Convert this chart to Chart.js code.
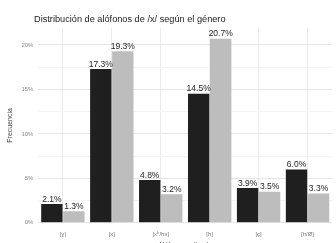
<!DOCTYPE html>
<html>
<head>
<meta charset="utf-8">
<script src="https://cdn.jsdelivr.net/npm/chart.js@4"></script>
<style>
  html, body { margin: 0; padding: 0; background: #ffffff; }
  #wrap { width: 336px; height: 243px; position: relative; }
</style>
</head>
<body>
<div id="wrap"><canvas id="grafico"></canvas></div>
<script>
// Datos
const alofonos = ["[ɣ]", "[x]", "[xʰ/hx]", "[h]", "[ç]", "[h/Ø]"];
const femenino = [2.1, 17.3, 4.8, 14.5, 3.9, 6.0];
const masculino = [1.3, 19.3, 3.2, 20.7, 3.5, 3.3];
const ticksY = [0, 2.5, 5, 7.5, 10, 12.5, 15, 17.5, 20];

const fuente = "'Liberation Sans', Arial, sans-serif";

// Título, título del eje x y etiquetas encima de las barras
const textos = {
  id: "textos",
  afterDatasetsDraw(chart) {
    const ctx = chart.ctx;
    ctx.save();
    ctx.font = "8.5px " + fuente;
    ctx.fillStyle = "#222222";
    ctx.textAlign = "center";
    ctx.textBaseline = "bottom";
    chart.data.datasets.forEach((ds, i) => {
      chart.getDatasetMeta(i).data.forEach((bar, j) => {
        ctx.fillText(ds.data[j].toFixed(1) + "%", bar.x, bar.y - 0.5);
      });
    });

    ctx.textAlign = "left";
    ctx.textBaseline = "alphabetic";
    ctx.font = "9.2px " + fuente;
    ctx.fillText("Distribución de alófonos de /x/ según el género", 34, 22);

    ctx.textAlign = "center";
    ctx.font = "7px " + fuente;
    ctx.fillStyle = "#444444";
    const a = chart.chartArea;
    ctx.fillText("Alófono realizado", (a.left + a.right) / 2, 247);
    ctx.restore();
  }
};

new Chart(document.getElementById("grafico"), {
  type: "bar",
  data: {
    labels: alofonos,
    datasets: [
      { label: "Femenino", data: femenino, backgroundColor: "#1f1f1f" },
      { label: "Masculino", data: masculino, backgroundColor: "#bdbdbd" }
    ]
  },
  options: {
    responsive: true,
    maintainAspectRatio: false,
    animation: false,
    datasets: { bar: { categoryPercentage: 0.9, barPercentage: 0.97 } },
    layout: { padding: { left: 2, right: 4, top: 28, bottom: -3 } },
    plugins: {
      legend: { display: false },
      tooltip: { enabled: false },
      title: { display: false }
    },
    scales: {
      x: {
        grid: { offset: false, color: "#ebebeb", drawTicks: false },
        border: { display: false },
        ticks: { color: "#7a7a7a", font: { family: fuente, size: 6 }, padding: 8 }
      },
      y: {
        min: 0,
        max: 21.9,
        afterBuildTicks: axis => { axis.ticks = ticksY.map(v => ({ value: v })); },
        grid: {
          drawTicks: false,
          color: c => (c.tick.value % 5 === 0 ? "#e6e6e6" : "#f3f3f3")
        },
        border: { display: false },
        ticks: {
          color: "#8a8a8a",
          font: { family: fuente, size: 6 },
          padding: 5,
          callback: v => (v % 5 === 0 ? v + "%" : "")
        },
        title: {
          display: true,
          text: "Frecuencia",
          color: "#444444",
          font: { family: fuente, size: 7 },
          padding: { top: 4, bottom: 2 }
        }
      }
    }
  },
  plugins: [textos]
});
</script>
</body>
</html>
